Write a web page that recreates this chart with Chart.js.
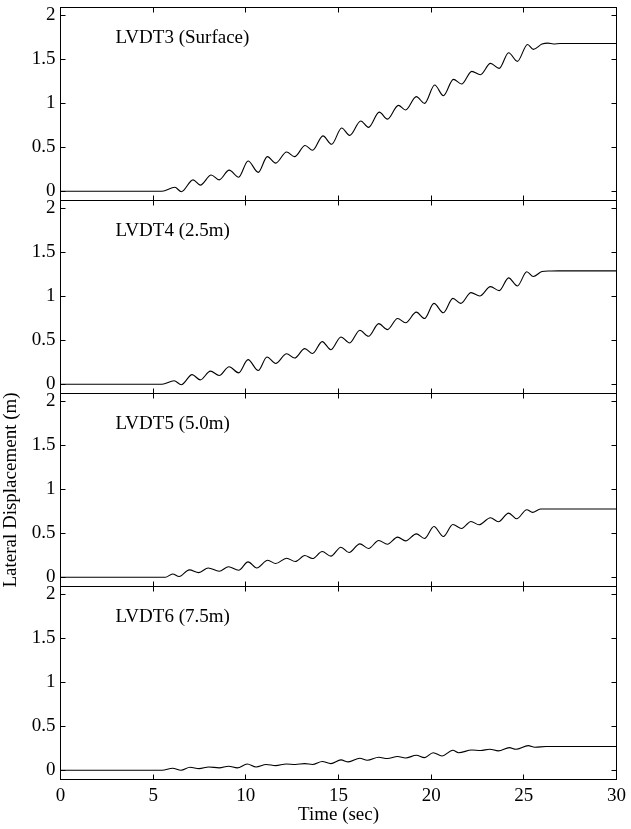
<!DOCTYPE html>
<html>
<head>
<meta charset="utf-8">
<script src="https://cdn.jsdelivr.net/npm/chart.js@4.4.1/dist/chart.umd.min.js"></script>
<style>
  body { margin: 0; background: #fff; }
  #wrap { position: relative; width: 631px; height: 829px; overflow: hidden; }
  #wrap canvas { position: absolute; left: 0; }
</style>
</head>
<body>
<div id="wrap"></div>
<script>
const panelNames = ['LVDT3 (Surface)', 'LVDT4 (2.5m)', 'LVDT5 (5.0m)', 'LVDT6 (7.5m)'];
const xLabel = 'Time (sec)';
const yLabel = 'Lateral Displacement (m)';
const timeTicks = [5, 10, 15, 20, 25];
const dispTicks = [0, 0.5, 1, 1.5, 2];

// LVDT3 (surface)
const t3 = [0, 5.48, 6.17, 6.52, 7.15, 7.54, 8.13, 8.56, 9.1, 9.61, 10.12, 10.67, 11.16, 11.61, 12.2, 12.63, 13.2, 13.6,
  14.16, 14.63, 15.17, 15.6, 16.2, 16.62, 17.2, 17.64, 18.23, 18.62, 19.2, 19.64, 20.19, 20.66, 21.2, 21.64, 22.19, 22.66,
  23.2, 23.67, 24.18, 24.65, 25.2, 25.51, 25.98, 26.3, 26.6, 26.96, 30];
const d3 = [0, 0, 0.045, -0.005, 0.13, 0.07, 0.185, 0.13, 0.24, 0.16, 0.345, 0.215, 0.394, 0.32, 0.447, 0.394, 0.52, 0.466,
  0.63, 0.534, 0.72, 0.636, 0.8, 0.727, 0.9, 0.82, 0.977, 0.924, 1.076, 1.0, 1.208, 1.087, 1.273, 1.22, 1.364, 1.326,
  1.455, 1.398, 1.576, 1.477, 1.67, 1.614, 1.674, 1.685, 1.675, 1.68, 1.68];

// LVDT4 (2.5m)
const t4 = [0, 5.48, 6.13, 6.52, 7.1, 7.54, 8.09, 8.56, 9.1, 9.61, 10.12, 10.67, 11.14, 11.61, 12.2, 12.63, 13.18, 13.6,
  14.12, 14.59, 15.13, 15.6, 16.15, 16.62, 17.17, 17.64, 18.19, 18.62, 19.2, 19.64, 20.15, 20.66, 21.17, 21.6, 22.15, 22.62,
  23.2, 23.67, 24.18, 24.65, 25.16, 25.51, 25.98, 26.4, 26.86, 30];
const d4 = [0, 0, 0.04, -0.005, 0.11, 0.05, 0.15, 0.1, 0.2, 0.13, 0.28, 0.156, 0.31, 0.237, 0.347, 0.298, 0.405, 0.35,
  0.485, 0.393, 0.538, 0.47, 0.614, 0.546, 0.69, 0.622, 0.748, 0.7, 0.82, 0.748, 0.92, 0.813, 0.977, 0.92, 1.042, 1.004,
  1.11, 1.065, 1.21, 1.118, 1.279, 1.225, 1.282, 1.288, 1.29, 1.29];

// LVDT5 (5.0m)
const t5 = [0, 5.66, 6.05, 6.4, 6.95, 7.46, 7.97, 8.56, 9.07, 9.61, 10.12, 10.59, 11.18, 11.61, 12.2, 12.67, 13.18, 13.6,
  14.12, 14.59, 15.13, 15.57, 16.15, 16.62, 17.17, 17.64, 18.19, 18.62, 19.2, 19.64, 20.15, 20.66, 21.17, 21.64, 22.15, 22.58,
  23.2, 23.63, 24.18, 24.61, 25.16, 25.47, 25.9, 30];
const d5 = [0, 0, 0.038, 0.008, 0.084, 0.053, 0.106, 0.068, 0.12, 0.08, 0.175, 0.106, 0.194, 0.156, 0.217, 0.179, 0.247, 0.213,
  0.293, 0.24, 0.342, 0.281, 0.38, 0.327, 0.418, 0.376, 0.456, 0.414, 0.494, 0.441, 0.578, 0.464, 0.6, 0.555, 0.635, 0.597,
  0.677, 0.631, 0.73, 0.665, 0.768, 0.738, 0.776, 0.776];

// LVDT6 (7.5m)
const t6 = [0, 5.48, 6.05, 6.5, 6.99, 7.48, 8.0, 8.56, 9.07, 9.54, 10.08, 10.55, 11.1, 11.61, 12.18, 12.67, 13.18, 13.6,
  14.12, 14.59, 15.13, 15.53, 16.15, 16.55, 17.17, 17.64, 18.19, 18.62, 19.2, 19.64, 20.11, 20.58, 21.17, 21.48, 22.19, 22.66,
  23.16, 23.63, 24.22, 24.57, 25.24, 25.6, 26.2, 30];
const d6 = [0, 0, 0.023, 0, 0.034, 0.019, 0.038, 0.027, 0.046, 0.027, 0.072, 0.038, 0.065, 0.053, 0.072, 0.065, 0.076, 0.065,
  0.1, 0.076, 0.118, 0.095, 0.137, 0.114, 0.148, 0.133, 0.156, 0.14, 0.17, 0.144, 0.2, 0.163, 0.228, 0.2, 0.23, 0.224,
  0.239, 0.22, 0.258, 0.239, 0.28, 0.262, 0.27, 0.27];

const SERIF = '"Liberation Serif", "Times New Roman", serif';
const FONT = { family: SERIF, size: 19 };
const FIRST_TOP = 7.5;
const PANEL_H = 193;

// frame + inward ticks on all four sides, panel caption
const frameTicks = {
  id: 'frameTicks',
  afterDraw(chart, args, opts) {
    const { ctx, chartArea: a, scales: { x, y } } = chart;
    ctx.save();
    ctx.strokeStyle = '#000';
    ctx.lineWidth = 1;
    ctx.beginPath();
    timeTicks.forEach(t => {
      const px = Math.round(x.getPixelForValue(t) - 0.5) + 0.5;
      ctx.moveTo(px, a.top); ctx.lineTo(px, a.top + 5);
      ctx.moveTo(px, a.bottom); ctx.lineTo(px, a.bottom - 5);
    });
    dispTicks.forEach(v => {
      const py = Math.round(y.getPixelForValue(v) - 0.5) + 0.5;
      ctx.moveTo(a.left, py); ctx.lineTo(a.left + 5, py);
      ctx.moveTo(a.right, py); ctx.lineTo(a.right - 5, py);
    });
    ctx.stroke();
    ctx.strokeRect(a.left, a.top, a.right - a.left, a.bottom - a.top);
    ctx.fillStyle = '#000';
    ctx.font = `${FONT.size}px ${SERIF}`;
    ctx.textBaseline = 'alphabetic';
    ctx.fillText(opts.label, a.left + 55, a.top + 35);
    ctx.restore();
  }
};

function makePanel(i, times, vals) {
  const last = i === 3;
  const panelTop = FIRST_TOP + i * PANEL_H;
  const canvasTop = Math.floor(panelTop) - 20;
  const padTop = panelTop - canvasTop;
  const height = last ? 829 - canvasTop : 233;

  const canvas = document.createElement('canvas');
  canvas.width = 631;
  canvas.height = height;
  canvas.style.top = canvasTop + 'px';
  document.getElementById('wrap').appendChild(canvas);

  return new Chart(canvas.getContext('2d'), {
    type: 'line',
    data: {
      datasets: [{
        data: times.map((t, j) => ({ x: t, y: vals[j] })),
        borderColor: '#000',
        borderWidth: 1.1,
        pointRadius: 0,
        cubicInterpolationMode: 'monotone',
        fill: false
      }]
    },
    options: {
      responsive: false,
      animation: false,
      events: [],
      layout: { padding: { top: padTop, bottom: last ? 0 : height - padTop - PANEL_H, left: 0, right: 14.5 } },
      plugins: {
        legend: { display: false },
        tooltip: { enabled: false },
        frameTicks: { label: panelNames[i] }
      },
      scales: {
        x: {
          type: 'linear',
          min: 0,
          max: 30,
          display: last,
          grid: { display: false, drawTicks: false },
          border: { display: false },
          ticks: { stepSize: 5, color: '#000', font: FONT, padding: 5, maxRotation: 0, callback: v => String(v) },
          title: { display: last, text: xLabel, color: '#000', font: FONT, padding: { top: 0, bottom: 3 } },
          afterFit: s => { if (last) s.height = height - padTop - PANEL_H; }
        },
        y: {
          type: 'linear',
          min: -0.105,
          max: 2.09,
          grid: { display: false, drawTicks: false },
          border: { display: false },
          afterBuildTicks: s => { s.ticks = dispTicks.map(v => ({ value: v })); },
          ticks: { color: '#000', font: FONT, padding: 5, callback: v => String(v) },
          title: { display: i === 2, text: yLabel, color: '#000', font: FONT, padding: { top: 0, bottom: 0 } },
          afterFit: s => { s.width = 60.5; }
        }
      }
    },
    plugins: [frameTicks]
  });
}

document.addEventListener('DOMContentLoaded', () => {
  makePanel(0, t3, d3);
  makePanel(1, t4, d4);
  makePanel(2, t5, d5);
  makePanel(3, t6, d6);
});
</script>
</body>
</html>
